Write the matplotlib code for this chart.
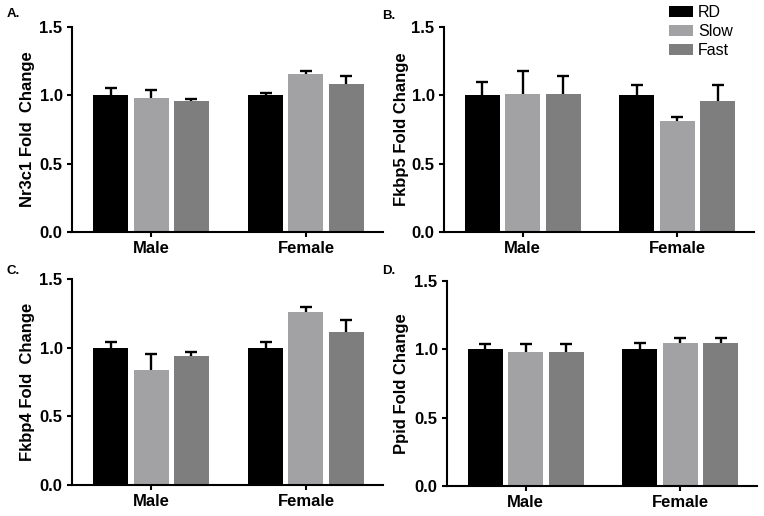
import matplotlib
matplotlib.use("Agg")
import matplotlib.pyplot as plt
import numpy as np
from matplotlib.patches import Patch

plt.rcParams['font.family'] = ['Liberation Sans', 'DejaVu Sans']

groups = ["Male", "Female"]
series = ["RD", "Slow", "Fast"]
colors = ["#000000", "#A2A2A5", "#7E7E7E"]

# Panel A: Nr3c1
nr3c1_mean = {"RD": [1.00, 1.00], "Slow": [0.98, 1.155], "Fast": [0.96, 1.085]}
nr3c1_err = {"RD": [0.055, 0.02], "Slow": [0.06, 0.02], "Fast": [0.013, 0.057]}
# Panel B: Fkbp5
fkbp5_mean = {"RD": [1.00, 1.00], "Slow": [1.01, 0.81], "Fast": [1.01, 0.955]}
fkbp5_err = {"RD": [0.10, 0.073], "Slow": [0.165, 0.03], "Fast": [0.13, 0.123]}
# Panel C: Fkbp4
fkbp4_mean = {"RD": [1.00, 1.00], "Slow": [0.84, 1.258], "Fast": [0.94, 1.115]}
fkbp4_err = {"RD": [0.04, 0.038], "Slow": [0.115, 0.038], "Fast": [0.026, 0.086]}
# Panel D: Ppid
ppid_mean = {"RD": [1.00, 1.00], "Slow": [0.983, 1.05], "Fast": [0.978, 1.043]}
ppid_err = {"RD": [0.036, 0.045], "Slow": [0.054, 0.033], "Fast": [0.063, 0.042]}

panels = [
    ("A.", "Nr3c1 Fold  Change", nr3c1_mean, nr3c1_err),
    ("B.", "Fkbp5 Fold Change", fkbp5_mean, fkbp5_err),
    ("C.", "Fkbp4 Fold  Change", fkbp4_mean, fkbp4_err),
    ("D.", "Ppid Fold Change", ppid_mean, ppid_err),
]

W, H = 764, 516
fig = plt.figure(figsize=(W / 100, H / 100), dpi=100)

# axes rectangles in pixels: left, top(1.5), right, bottom(0)
rects = [(72, 27, 383, 232), (444, 27, 754, 232), (72, 279, 383, 485), (447, 281, 757, 486)]
label_x = [-0.119, -0.113, -0.119, -0.123]
letter_pos = [(7, 14), (382, 16), (7, 271), (382, 271)]

step = 0.261
width = 0.226
x = np.arange(len(groups))

axes = []
for i, ((letter, ylabel, means, errs), (l, t, r, b)) in enumerate(zip(panels, rects)):
    ax = fig.add_axes([l / W, 1 - b / H, (r - l) / W, (b - t) / H])
    axes.append(ax)
    for j, s in enumerate(series):
        pos = x + (j - 1) * step
        ax.errorbar(pos, means[s], yerr=errs[s], fmt='none',
                    ecolor='black', elinewidth=1.7, capsize=4.3, capthick=1.7, zorder=1)
        ax.bar(pos, means[s], width=width, color=colors[j], zorder=2)
    ax.set_xlim(-0.51, 1.497)
    ax.set_ylim(0, 1.5)
    ax.set_yticks([0, 0.5, 1.0, 1.5])
    ax.set_yticklabels(["0.0", "0.5", "1.0", "1.5"])
    ax.set_xticks(x)
    ax.set_xticklabels(groups)
    for sp in ["top", "right"]:
        ax.spines[sp].set_visible(False)
    for sp in ["left", "bottom"]:
        ax.spines[sp].set_linewidth(1.5)
        ax.spines[sp].set_zorder(4)
    ax.tick_params(axis='both', length=3.8, width=1.5, labelsize=12, pad=3)
    for lab in ax.get_xticklabels() + ax.get_yticklabels():
        lab.set_fontweight('bold')
    ax.set_ylabel(ylabel, fontsize=12, fontweight='bold')
    ax.yaxis.set_label_coords(label_x[i], 0.5)
    fig.text(letter_pos[i][0] / W, 1 - letter_pos[i][1] / H, letter, fontsize=9.5,
             fontweight='bold', ha='left', va='center')

handles = [Patch(facecolor=c, edgecolor='none') for c in colors]
fs = 11.5
fspx = fs * 100 / 72
fig.legend(handles, series, loc='upper left', bbox_to_anchor=(669 / W, 1 - 5 / H),
           frameon=False, fontsize=fs, borderpad=0, borderaxespad=0,
           handlelength=24 / fspx, handleheight=10 / fspx, handletextpad=5 / fspx,
           labelspacing=0.25)

fig.savefig("out.png", dpi=100)
